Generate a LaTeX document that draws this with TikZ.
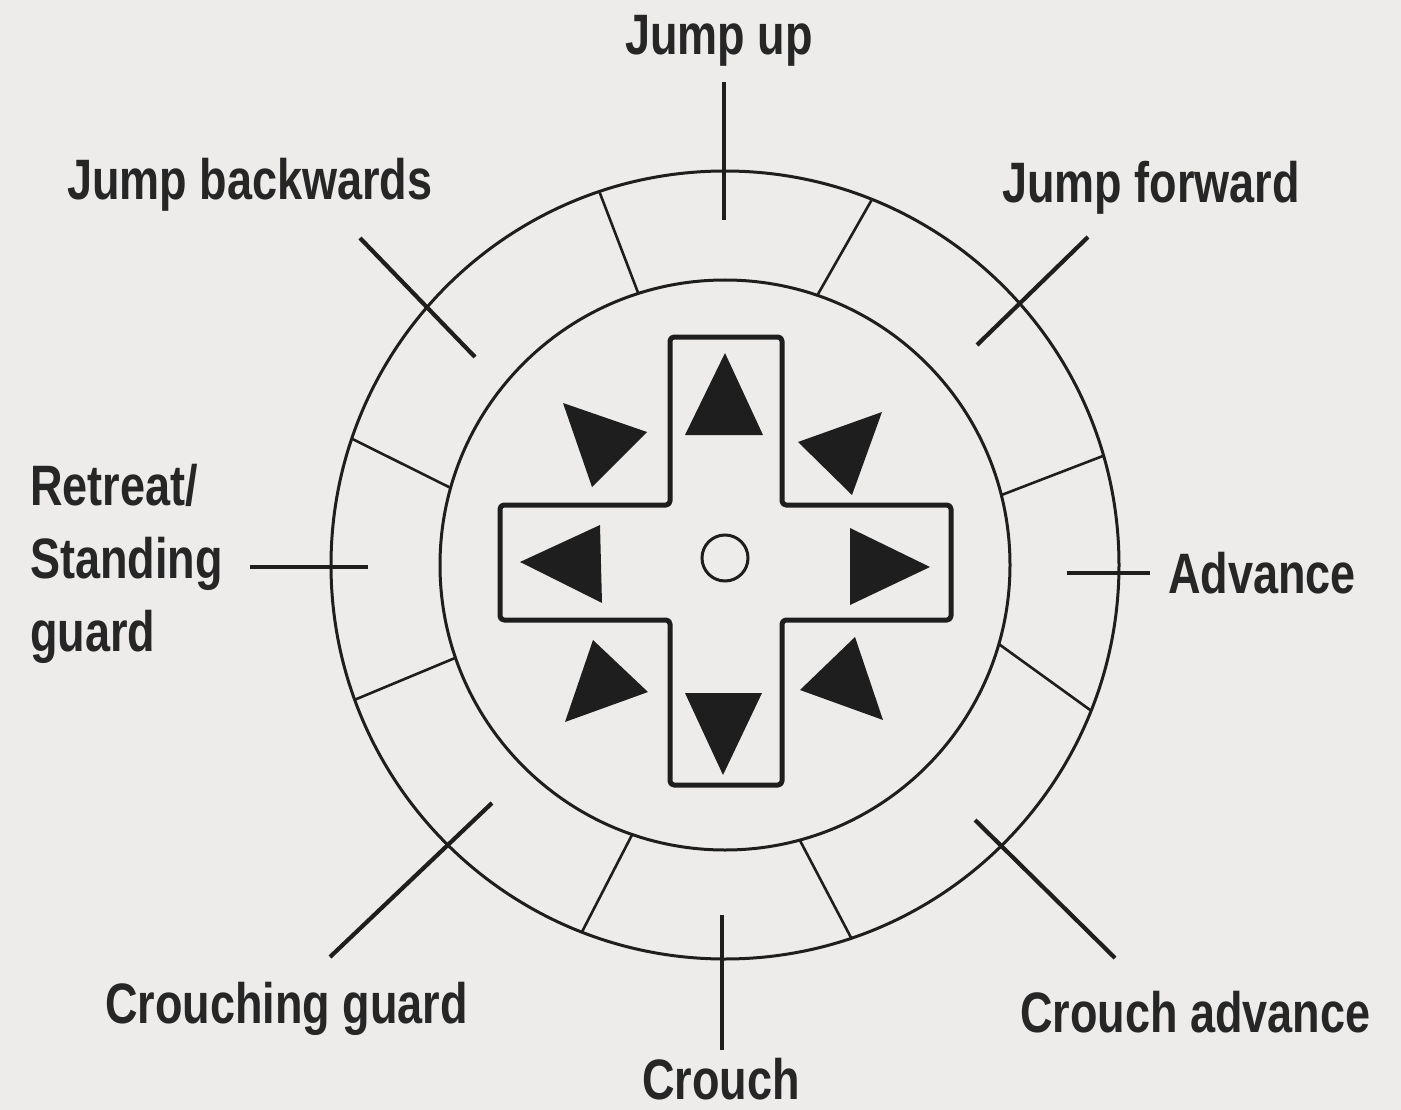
\documentclass[tikz,border=0pt]{standalone}
\usepackage{fontspec}
\newfontfamily\labfont[FakeStretch=0.79]{Liberation Sans}
\usetikzlibrary{calc}
\definecolor{ink}{RGB}{30,30,30}
\definecolor{paper}{RGB}{237,236,235}
\definecolor{txt}{RGB}{38,38,38}
\begin{document}
\begin{tikzpicture}[x=1pt,y=-1pt,
  lab/.style={font=\labfont\bfseries\fontsize{57}{73}\selectfont, text=txt, inner sep=0pt},
  ring/.style={draw=ink, line width=3pt},
  divider/.style={draw=ink, line width=2.6pt},
  leader/.style={draw=ink, line width=4.2pt},
  pad/.style={draw=ink, line width=5pt, rounded corners=4pt, line join=round},
  arrowtri/.style={fill=ink, draw=none}]
\fill[paper] (0,0) rectangle (1401,1110);
\useasboundingbox (0,0) rectangle (1401,1110);

\coordinate (C) at (725,565);

% rings
\draw[ring] (C) circle[radius=394pt];
\draw[ring] (C) circle[radius=285pt];

% dividers (screen angles, outer / inner)
\foreach \ao/\ai in {-108.6/-107.7, -68.1/-71.1, -16.1/-14.2, 21.7/16.1,
                     71.3/74.8, 111.3/109, 160/161, -161.3/-164.3}
  \draw[divider] ($(C)+(\ao:394)$) -- ($(C)+(\ai:285)$);

% d-pad
\draw[pad] (670,337) -- (782,337) -- (782,505) -- (951,505) -- (951,620)
  -- (782,620) -- (782,785) -- (670,785) -- (670,620) -- (500,620)
  -- (500,505) -- (670,505) -- cycle;
\draw[ink, line width=3pt] (725,558) circle[radius=23pt];

% triangles
\fill[arrowtri] (725,353) -- (685,435) -- (763,435) -- cycle;
\fill[arrowtri] (685,693) -- (762,693) -- (723,775) -- cycle;
\fill[arrowtri] (520,562) -- (600,525) -- (602,603) -- cycle;
\fill[arrowtri] (850,528) -- (850,605) -- (930,567) -- cycle;
\fill[arrowtri] (563,403) -- (647,432) -- (592,487) -- cycle;
\fill[arrowtri] (882,412) -- (798,442) -- (852,495) -- cycle;
\fill[arrowtri] (593,640) -- (648,692) -- (565,722) -- cycle;
\fill[arrowtri] (855,637) -- (883,720) -- (800,690) -- cycle;

% labels
\node[lab, anchor=base] (jumpup) at (719,55) {Jump up};
\node[lab, anchor=base west] (jumpback) at (67,200) {Jump backwards};
\node[lab, anchor=base west] (jumpfwd) at (1002,203) {Jump forward};
\node[lab, anchor=base west] (retreat) at (30,505)
  {\begin{tabular}[t]{@{}l@{}}Retreat/\\Standing\\guard\end{tabular}};
\node[lab, anchor=base west] (advance) at (1168,593) {Advance};
\node[lab, anchor=base west] (crouchguard) at (105,1023) {Crouching guard};
\node[lab, anchor=base west] (crouchadv) at (1020,1032) {Crouch advance};
\node[lab, anchor=base] (crouch) at (721,1099) {Crouch};

% leader lines
\coordinate (ju1) at (724,82);   \coordinate (ju2) at (724,220);
\coordinate (jb1) at (360,238);  \coordinate (jb2) at (475,357);
\coordinate (jf1) at (1088,237); \coordinate (jf2) at (977,345);
\coordinate (ad1) at (1150,573); \coordinate (ad2) at (1067,573);
\coordinate (ca1) at (1115,958); \coordinate (ca2) at (975,820);
\coordinate (cr1) at (722,1050); \coordinate (cr2) at (722,915);
\coordinate (cg1) at (330,957);  \coordinate (cg2) at (492,803);
\coordinate (rt1) at (250,567);  \coordinate (rt2) at (368,567);
\draw[leader] (ju1) -- (ju2);
\draw[leader] (jb1) -- (jb2);
\draw[leader] (jf1) -- (jf2);
\draw[leader] (ad1) -- (ad2);
\draw[leader] (ca1) -- (ca2);
\draw[leader] (cr1) -- (cr2);
\draw[leader] (cg1) -- (cg2);
\draw[leader] (rt1) -- (rt2);
\end{tikzpicture}
\end{document}
